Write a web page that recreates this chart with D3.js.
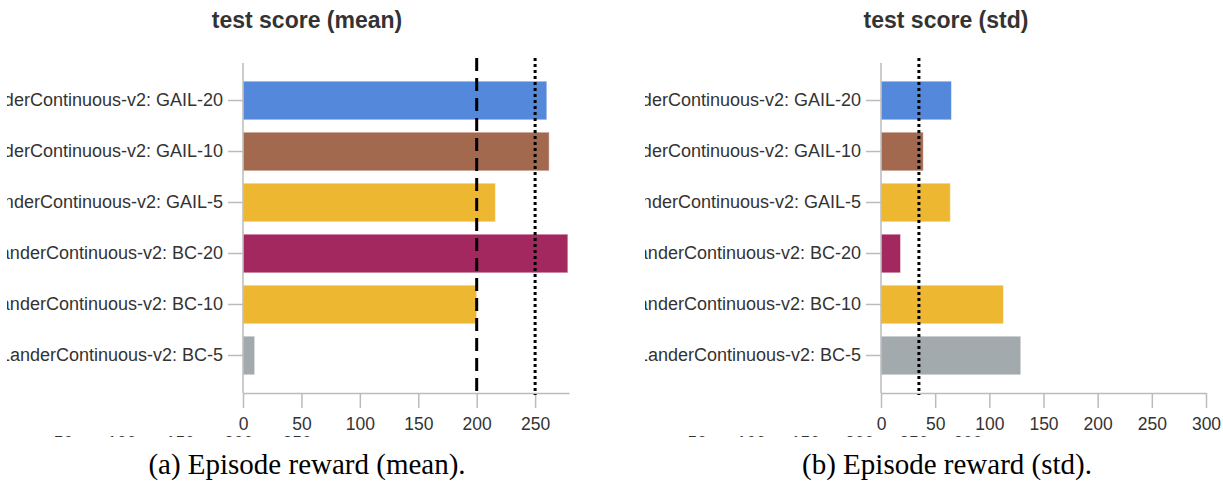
<!DOCTYPE html>
<html>
<head>
<meta charset="utf-8">
<script src="https://cdn.jsdelivr.net/npm/d3@7"></script>
<style>
  body { margin: 0; background: #fff; }
  svg { display: block; }
</style>
</head>
<body>
<div id="chart"></div>
<script>
// Data
const runLabels = [
  'LunarLanderContinuous-v2: GAIL-20',
  'LunarLanderContinuous-v2: GAIL-10',
  'LunarLanderContinuous-v2: GAIL-5',
  'LunarLanderContinuous-v2: BC-20',
  'LunarLanderContinuous-v2: BC-10',
  'LunarLanderContinuous-v2: BC-5'
];
const meanScores = [260, 262, 216, 278, 200, 10];
const stdScores = [65, 39, 64, 18, 113, 129];
const meanTicks = [0, 50, 100, 150, 200, 250];
const stdTicks = [0, 50, 100, 150, 200, 250, 300];
const meanRules = [{ value: 200, kind: 'dashed' }, { value: 250, kind: 'dotted' }];
const stdRules = [{ value: 35, kind: 'dotted' }];
const panelTitles = ['test score (mean)', 'test score (std)'];
const captions = ['(a) Episode reward (mean).', '(b) Episode reward (std).'];

const width = 1223;
const height = 484;
const sans = '"Liberation Sans", Arial, sans-serif';

const color = d3.scaleOrdinal()
  .domain(runLabels)
  .range(['#5388db', '#a3694f', '#edb732', '#a2285f', '#edb732', '#a3aaad']);

const svg = d3.select('#chart')
  .append('svg')
  .attr('width', width)
  .attr('height', height);

const defs = svg.append('defs');

function drawPanel(opts) {
  const { id, clipX, clipW, x0, x1, xMax, values, ticks, rules, title, titleX, caption, captionX } = opts;

  defs.append('clipPath')
    .attr('id', `clip-${id}`)
    .append('rect')
    .attr('x', clipX).attr('y', 0)
    .attr('width', clipW).attr('height', 437);

  const g = svg.append('g').attr('clip-path', `url(#clip-${id})`);

  const x = d3.scaleLinear().domain([0, xMax]).range([x0, x1]);
  const y = d3.scaleBand()
    .domain(runLabels)
    .range([63, 393])
    .paddingInner(0.243)
    .paddingOuter(0.357);

  // title
  g.append('text')
    .attr('x', titleX)
    .attr('y', 28)
    .attr('text-anchor', 'middle')
    .style('font-family', sans)
    .style('font-weight', '700')
    .style('font-size', '23px')
    .style('fill', '#333')
    .text(title);

  // bars
  g.append('g')
    .selectAll('rect')
    .data(runLabels)
    .enter()
    .append('rect')
    .attr('x', x(0))
    .attr('y', d => y(d))
    .attr('width', (d, i) => x(values[i]) - x(0))
    .attr('height', y.bandwidth())
    .attr('fill', d => color(d))
    .attr('stroke', '#fff')
    .attr('stroke-opacity', 0.45)
    .attr('stroke-width', 1);

  // y axis
  const yAxis = g.append('g')
    .attr('transform', `translate(${x0},0)`)
    .call(d3.axisLeft(y).tickSize(15).tickPadding(5));
  yAxis.select('.domain').remove();
  yAxis.selectAll('line').attr('stroke', '#bbb').attr('stroke-width', 1.5);
  yAxis.selectAll('text')
    .style('font-family', sans)
    .style('font-size', '18px')
    .style('fill', '#333');
  g.append('line')
    .attr('x1', x0).attr('x2', x0)
    .attr('y1', 63).attr('y2', 393)
    .attr('stroke', '#bbb').attr('stroke-width', 1.5);

  // x axis
  const xAxis = g.append('g')
    .attr('transform', 'translate(0,393)')
    .call(d3.axisBottom(x).tickValues(ticks).tickSize(15).tickPadding(10).tickSizeOuter(0));
  xAxis.select('.domain').attr('stroke', '#bbb').attr('stroke-width', 1.5);
  xAxis.selectAll('line').attr('stroke', '#bbb').attr('stroke-width', 1.5);
  xAxis.selectAll('text')
    .style('font-family', sans)
    .style('font-size', '17.5px')
    .style('fill', '#333');

  // clipped second row of tick labels, shifted left and down
  g.append('g')
    .selectAll('text')
    .data(ticks.filter(d => d > 0))
    .enter()
    .append('text')
    .attr('x', d => x(d) - 238)
    .attr('y', 449)
    .attr('text-anchor', 'middle')
    .style('font-family', sans)
    .style('font-size', '17.5px')
    .style('fill', '#333')
    .text(d => d);

  // reference rules
  g.append('g')
    .selectAll('line')
    .data(rules)
    .enter()
    .append('line')
    .attr('x1', d => x(d.value))
    .attr('x2', d => x(d.value))
    .attr('y1', 58)
    .attr('y2', 395)
    .attr('stroke', '#000')
    .attr('stroke-width', 3)
    .attr('stroke-dasharray', d => d.kind === 'dashed' ? '13,7' : '3,3');

  // caption (outside the clip)
  svg.append('text')
    .attr('x', captionX)
    .attr('y', 474)
    .attr('text-anchor', 'middle')
    .style('font-family', '"Liberation Serif", "Times New Roman", serif')
    .style('font-size', '29px')
    .style('fill', '#000')
    .text(caption);
}

drawPanel({
  id: 'mean', clipX: 7, clipW: 601, x0: 243, x1: 569, xMax: 279,
  values: meanScores, ticks: meanTicks, rules: meanRules,
  title: panelTitles[0], titleX: 307, caption: captions[0], captionX: 307
});

drawPanel({
  id: 'std', clipX: 645, clipW: 578, x0: 881, x1: 1206, xMax: 300,
  values: stdScores, ticks: stdTicks, rules: stdRules,
  title: panelTitles[1], titleX: 946, caption: captions[1], captionX: 947
});
</script>
</body>
</html>
